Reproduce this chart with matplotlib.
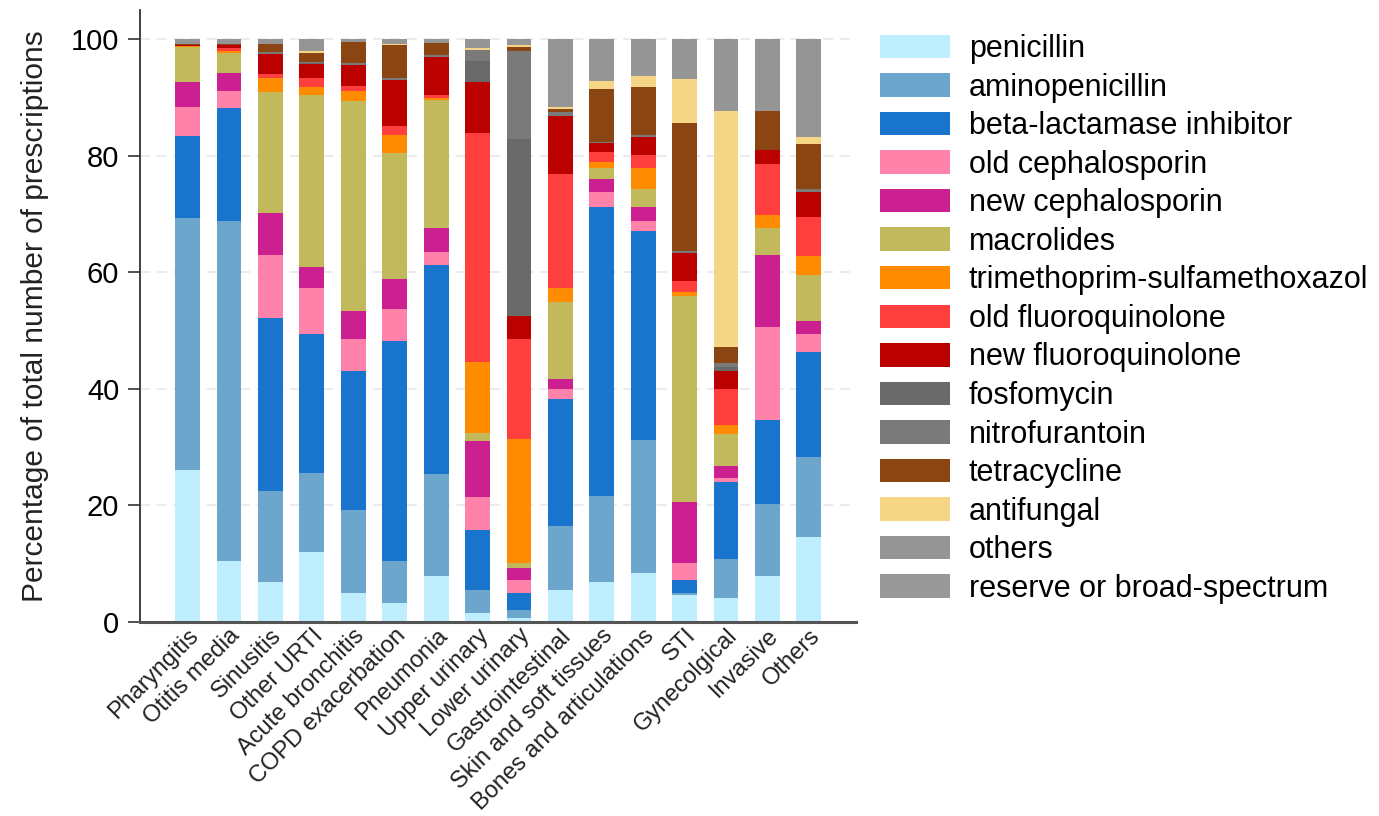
import numpy as np
import matplotlib
matplotlib.use("Agg")
import matplotlib.pyplot as plt
from matplotlib.patches import Patch

plt.rcParams["font.family"] = ["Liberation Sans", "DejaVu Sans"]

categories = ["Pharyngitis", "Otitis media", "Sinusitis", "Other URTI", "Acute bronchitis",
              "COPD exacerbation", "Pneumonia", "Upper urinary", "Lower urinary",
              "Gastrointestinal", "Skin and soft tissues", "Bones and articulations",
              "STI", "Gynecolgical", "Invasive", "Others"]

penicillin = [26.0, 10.4, 6.8, 11.9, 4.9, 3.3, 7.8, 1.5, 0.6, 5.4, 6.8, 8.4, 4.6, 4.1, 7.8, 14.6]
aminopenicillin = [43.2, 58.4, 15.6, 13.6, 14.2, 7.1, 17.6, 3.9, 1.5, 11.1, 14.7, 22.8, 0.4, 6.7, 12.4, 13.6]
beta_lactamase = [14.2, 19.3, 29.8, 23.8, 23.9, 37.8, 35.8, 10.3, 2.9, 21.8, 49.7, 35.9, 2.1, 13.2, 14.5, 18.1]
old_ceph = [5.0, 3.0, 10.7, 8.0, 5.6, 5.5, 2.3, 5.7, 2.1, 1.7, 2.6, 1.7, 3.0, 0.6, 15.8, 3.0]
new_ceph = [4.2, 3.0, 7.2, 3.5, 4.8, 5.1, 4.1, 9.7, 2.1, 1.7, 2.1, 2.4, 10.4, 2.1, 12.4, 2.3]
macrolides = [6.0, 3.5, 20.8, 29.5, 36.0, 21.7, 22.0, 1.3, 0.9, 13.2, 1.9, 3.0, 35.4, 5.6, 4.6, 7.9]
trimeth = [0.2, 0.4, 2.4, 1.4, 1.7, 3.1, 0.2, 12.2, 21.3, 2.4, 1.1, 3.6, 0.6, 1.5, 2.3, 3.2]
old_fq = [0.05, 0.4, 0.7, 1.6, 0.8, 1.5, 0.6, 39.2, 17.2, 19.6, 1.7, 2.3, 2.0, 6.2, 8.8, 6.8]
new_fq = [0.05, 0.5, 3.4, 2.4, 3.6, 7.9, 6.5, 8.8, 3.9, 9.8, 1.5, 3.0, 4.7, 3.0, 2.3, 4.2]
fosfomycin = [0, 0, 0, 0.2, 0.1, 0, 0, 3.6, 30.3, 0, 0, 0, 0, 0.7, 0, 0]
nitrofurantoin = [0, 0, 0.3, 0.2, 0.3, 0.3, 0.4, 1.9, 15.2, 0.7, 0.3, 0.4, 0.5, 0.7, 0, 0.6]
tetracycline = [0.2, 0.3, 1.4, 1.5, 3.5, 5.6, 2.0, 0, 0.6, 0.6, 9.0, 8.2, 21.8, 2.8, 6.7, 7.7]
antifungal = [0, 0, 0, 0.3, 0, 0.3, 0, 0.3, 0.3, 0.4, 1.4, 2.0, 7.6, 40.5, 0, 1.1]
others = [0.9, 0.8, 0.9, 2.1, 0.6, 0.8, 0.7, 1.6, 1.1, 11.6, 7.2, 6.3, 6.9, 12.3, 12.4, 16.9]
reserve = [0] * 16

series = [
    ("penicillin", penicillin, "#bfefff"),
    ("aminopenicillin", aminopenicillin, "#6ca6cd"),
    ("beta-lactamase inhibitor", beta_lactamase, "#1874cd"),
    ("old cephalosporin", old_ceph, "#ff82ab"),
    ("new cephalosporin", new_ceph, "#cd2090"),
    ("macrolides", macrolides, "#c2b85c"),
    ("trimethoprim-sulfamethoxazol", trimeth, "#ff8c00"),
    ("old fluoroquinolone", old_fq, "#ff3e3e"),
    ("new fluoroquinolone", new_fq, "#bb0000"),
    ("fosfomycin", fosfomycin, "#696969"),
    ("nitrofurantoin", nitrofurantoin, "#7a7a7a"),
    ("tetracycline", tetracycline, "#8b4513"),
    ("antifungal", antifungal, "#f5d586"),
    ("others", others, "#959595"),
    ("reserve or broad-spectrum", reserve, "#999999"),
]

fig = plt.figure(figsize=(13.79, 8.16), dpi=100)
ax = fig.add_axes([0.1015, 0.238, 0.519, 0.75])

x = np.arange(len(categories))
bottom = np.zeros(len(categories))
for name, vals, color in series:
    vals = np.array(vals, dtype=float)
    ax.bar(x, vals, bottom=bottom, width=0.6, color=color, linewidth=0, zorder=2)
    bottom += vals

ax.set_xlim(-1.15, len(categories) - 1 + 1.13)
ax.set_ylim(0, 105)
ax.set_yticks([0, 20, 40, 60, 80, 100])
ax.yaxis.grid(True, color="#e8e8e8", linestyle=(0, (6, 4)), linewidth=1.2, zorder=0)
ax.set_axisbelow(True)

for side in ["top", "right"]:
    ax.spines[side].set_visible(False)
ax.spines["left"].set_color("#333333")
ax.spines["left"].set_linewidth(1.3)
ax.spines["bottom"].set_color("#555555")
ax.spines["bottom"].set_linewidth(2.2)

ax.tick_params(axis="y", length=9, width=1.2, color="#333333", labelsize=21, pad=6)
ax.tick_params(axis="x", length=0, labelsize=17, pad=2)
ax.set_xticks(x)
ax.set_xticklabels(categories, rotation=45, ha="right", rotation_mode="anchor", color="#222222")
ax.set_ylabel("Percentage of total number of prescriptions", fontsize=21.5, color="#222222", labelpad=16)

handles = [Patch(facecolor=c, edgecolor="none") for _, _, c in series]
labels = [n for n, _, _ in series]
fig.legend(handles, labels, loc="upper left", bbox_to_anchor=(880 / 1379, 1 - 34 / 816),
           frameon=False, fontsize=22, handlelength=2.3, handleheight=0.8,
           handletextpad=0.6, labelspacing=0.28, borderpad=0, borderaxespad=0)

plt.savefig("out.png", dpi=100)
plt.close()
